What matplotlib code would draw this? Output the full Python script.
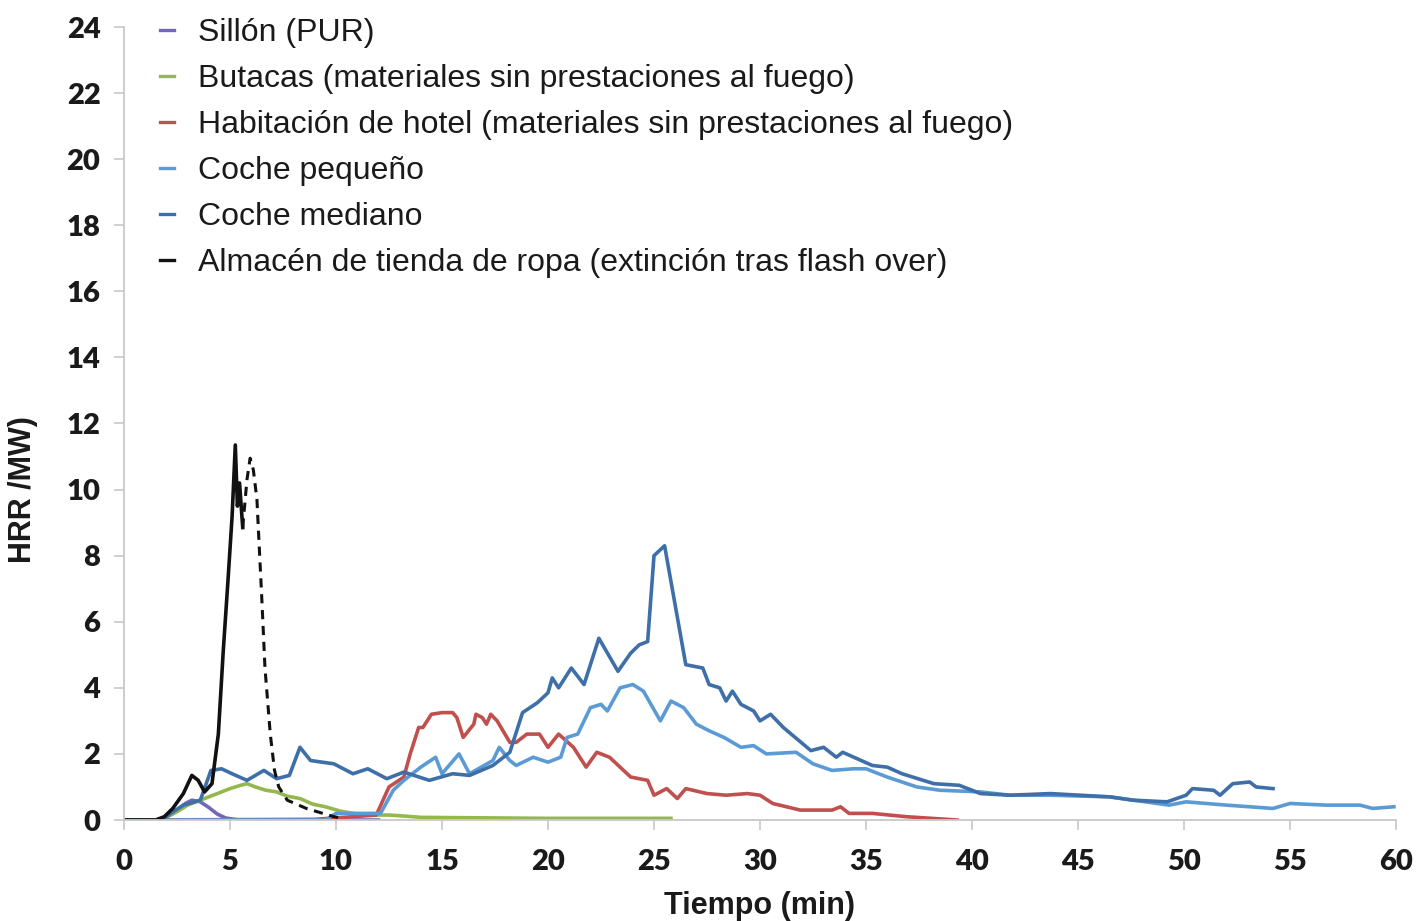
import numpy as np
from matplotlib import pyplot as plt

# Sillón (PUR)
t_sillon = [0, 1.5, 2.0, 2.5, 2.9, 3.2, 3.6, 4.0, 4.4, 4.8, 5.4, 8.0, 12.0]
v_sillon = [0, 0, 0.1, 0.3, 0.5, 0.6, 0.55, 0.38, 0.18, 0.06, 0.0, 0.0, 0.0]

# Butacas
t_butacas = [0, 1.5, 2.0, 2.5, 3.0, 3.6, 4.4, 5.0, 5.5, 5.8, 6.2, 6.7, 7.2, 7.7,
             8.3, 8.9, 9.5, 10.2, 10.8, 11.5, 12.5, 13.2, 14, 16, 18, 20, 22, 24, 25.8]
v_butacas = [0, 0, 0.08, 0.25, 0.45, 0.6, 0.8, 0.95, 1.05, 1.1, 1.0, 0.9, 0.85, 0.72,
             0.65, 0.48, 0.4, 0.27, 0.2, 0.15, 0.15, 0.12, 0.08, 0.07, 0.06, 0.05, 0.05, 0.05, 0.05]

# Habitación de hotel
t_hotel = [0, 9, 11.9, 12.5, 13.2, 13.5, 13.9, 14.1, 14.5, 15.0, 15.5, 15.7, 16.0, 16.5,
           16.6, 16.9, 17.1, 17.3, 17.6, 18.2, 18.5, 19.0, 19.6, 20.0, 20.5, 21.2, 21.8,
           22.3, 22.9, 23.9, 24.7, 25.0, 25.6, 26.1, 26.5, 27.5, 28.4, 29.4, 30.0, 30.6,
           31.9, 33.4, 33.8, 34.2, 35.3, 36.9, 39.3]
v_hotel = [0, 0.02, 0.15, 1.0, 1.3, 2.0, 2.8, 2.8, 3.2, 3.25, 3.25, 3.1, 2.5, 2.9,
           3.2, 3.1, 2.9, 3.2, 3.0, 2.35, 2.35, 2.6, 2.6, 2.2, 2.6, 2.2, 1.6,
           2.05, 1.9, 1.3, 1.2, 0.75, 0.95, 0.65, 0.95, 0.8, 0.75, 0.8, 0.75, 0.5,
           0.3, 0.3, 0.4, 0.2, 0.2, 0.1, 0.0]

# Coche pequeño
t_pequeno = [0, 9.5, 10, 11.5, 12.1, 12.7, 13.2, 14.0, 14.7, 15.0, 15.8, 16.3, 17.4, 17.7,
             18.2, 18.5, 19.3, 20.0, 20.6, 20.9, 21.4, 22.0, 22.5, 22.8, 23.4, 24.0, 24.5,
             25.3, 25.8, 26.4, 27.0, 27.6, 28.3, 29.1, 29.7, 30.3, 31.7, 32.5, 33.4, 34.4,
             35.0, 36.0, 37.4, 38.5, 40.4, 41.8, 43.7, 46.5, 47.6, 49.3, 50.1, 52.0, 54.2,
             55.0, 56.7, 58.3, 58.9, 59.9]
v_pequeno = [0, 0, 0.2, 0.2, 0.2, 0.9, 1.2, 1.6, 1.9, 1.4, 2.0, 1.4, 1.8, 2.2,
             1.8, 1.65, 1.9, 1.75, 1.9, 2.5, 2.6, 3.4, 3.5, 3.3, 4.0, 4.1, 3.9,
             3.0, 3.6, 3.4, 2.9, 2.7, 2.5, 2.2, 2.25, 2.0, 2.05, 1.7, 1.5, 1.55,
             1.55, 1.3, 1.0, 0.9, 0.85, 0.75, 0.75, 0.7, 0.6, 0.45, 0.55, 0.45, 0.35,
             0.5, 0.45, 0.45, 0.35, 0.4]

# Coche mediano
t_mediano = [0, 1.8, 2.2, 2.8, 3.6, 4.1, 4.6, 5.1, 5.8, 6.6, 7.2, 7.8, 8.3, 8.8, 9.9,
             10.8, 11.5, 12.4, 13.2, 14.4, 15.5, 16.3, 17.4, 18.2, 18.8, 19.5, 20.0, 20.2,
             20.5, 21.1, 21.7, 22.4, 23.3, 23.9, 24.3, 24.7, 25.0, 25.5, 26.5, 27.3, 27.6,
             28.1, 28.4, 28.7, 29.1, 29.7, 30.0, 30.5, 31.1, 32.4, 33.0, 33.6, 33.9, 35.3,
             36.0, 36.7, 38.2, 39.4, 40.4, 41.8, 43.7, 46.5, 47.6, 49.2, 50.1, 50.4, 51.4,
             51.7, 52.3, 53.1, 53.4, 54.2]
v_mediano = [0, 0, 0.2, 0.45, 0.6, 1.5, 1.55, 1.4, 1.2, 1.5, 1.25, 1.35, 2.2, 1.8, 1.7,
             1.4, 1.55, 1.25, 1.45, 1.2, 1.4, 1.35, 1.65, 2.05, 3.25, 3.55, 3.85, 4.3,
             4.0, 4.6, 4.1, 5.5, 4.5, 5.05, 5.3, 5.4, 8.0, 8.3, 4.7, 4.6, 4.1,
             4.0, 3.6, 3.9, 3.5, 3.3, 3.0, 3.2, 2.8, 2.1, 2.2, 1.9, 2.05, 1.65,
             1.6, 1.4, 1.1, 1.05, 0.8, 0.75, 0.8, 0.7, 0.6, 0.55, 0.75, 0.95, 0.9,
             0.75, 1.1, 1.15, 1.0, 0.95]

# Almacén de tienda de ropa (solid) and its dashed continuation
t_almacen = [0, 1.5, 1.9, 2.3, 2.8, 3.2, 3.5, 3.8, 4.15, 4.45, 4.68, 4.9, 5.1, 5.25,
             5.35, 5.45, 5.6]
v_almacen = [0, 0, 0.1, 0.35, 0.8, 1.35, 1.2, 0.85, 1.1, 2.6, 5.1, 7.2, 9.2, 11.35,
             9.5, 10.2, 8.85]
t_almacen_d = [5.6, 5.8, 5.95, 6.1, 6.27, 6.5, 6.65, 6.9, 7.1, 7.3, 7.7, 8.6, 9.9, 10.3]
v_almacen_d = [8.85, 10.3, 10.95, 10.6, 9.7, 6.7, 4.6, 2.6, 1.5, 1.0, 0.6, 0.35, 0.1, 0.05]

labels = ["Sillón (PUR)",
          "Butacas (materiales sin prestaciones al fuego)",
          "Habitación de hotel (materiales sin prestaciones al fuego)",
          "Coche pequeño",
          "Coche mediano",
          "Almacén de tienda de ropa (extinción tras flash over)"]
colors = ["#7466b8", "#94b84e", "#c0504d", "#5b9bd5", "#3e6fa8", "#111111"]

fig = plt.figure(figsize=(14.18, 9.21), dpi=100)
ax = fig.add_axes([124/1418, 101/921, 1272/1418, 793/921])

series = [(t_sillon, v_sillon), (t_butacas, v_butacas), (t_hotel, v_hotel),
          (t_pequeno, v_pequeno), (t_mediano, v_mediano), (t_almacen, v_almacen)]
for (t, v), c, lab in zip(series, colors, labels):
    ax.plot(t, v, color=c, lw=2.6, label=lab, solid_joinstyle='round')
ax.plot(t_almacen_d, v_almacen_d, color="#111111", lw=2.2, ls=(0, (3, 2.2)))

ax.set_xlim(0, 60)
ax.set_ylim(0, 24)
ax.set_xticks(np.arange(0, 61, 5))
ax.set_yticks(np.arange(0, 25, 2))
for s in ['top', 'right']:
    ax.spines[s].set_visible(False)
for s in ['left', 'bottom']:
    ax.spines[s].set_color('#c8c8c8')
    ax.spines[s].set_linewidth(1.3)
ax.tick_params(axis='both', colors='#c8c8c8', length=7, width=1.2, labelcolor='#1a1a1a')
ax.tick_params(axis='x', pad=14)
ax.tick_params(axis='y', pad=10)
for lbl in ax.get_xticklabels() + ax.get_yticklabels():
    lbl.set_fontfamily('Lato')
    lbl.set_fontweight('heavy')
    lbl.set_fontsize(21)

ax.set_xlabel("Tiempo (min)", fontsize=22, fontweight='bold', family='Liberation Sans', color='#1a1a1a')
ax.set_ylabel("HRR /MW)", fontsize=22, fontweight='bold', family='Liberation Sans', color='#1a1a1a')
ax.xaxis.set_label_coords(0.5, -0.089)
ax.yaxis.set_label_coords(-0.068, 0.417)

leg = ax.legend(loc='upper left', bbox_to_anchor=(160/1418, 1 - 18/921), bbox_transform=fig.transFigure,
                frameon=False, handlelength=0.45, handletextpad=0.75,
                labelspacing=0.5, borderpad=0, borderaxespad=0,
                prop={'family': 'Liberation Sans', 'size': 23})
for h in leg.get_lines():
    h.set_linewidth(2.4)
for txt in leg.get_texts():
    txt.set_color('#1a1a1a')

fig.savefig("out.png", dpi=100)
